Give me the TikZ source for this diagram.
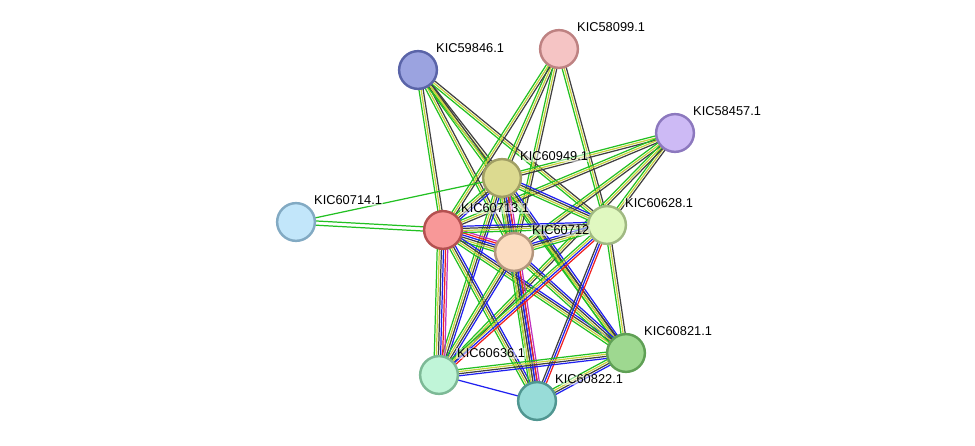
\documentclass[tikz,border=0pt]{standalone}
\usepackage{fontspec}
\setmainfont{Liberation Sans}
\usetikzlibrary{calc}
\definecolor{gr}{HTML}{22C022}
\definecolor{ye}{HTML}{C8D23C}
\definecolor{bk}{HTML}{404040}
\definecolor{bl}{HTML}{2020F0}
\definecolor{rd}{HTML}{F02020}
\definecolor{mg}{HTML}{C030C0}
\newcommand\ed[3]{\foreach \c/\o in #3{\draw[\c,line width=0.7pt] ($(#1)!\o*1.2pt!90:(#2)$) -- ($(#2)!\o*1.2pt!-90:(#1)$);}}
\tikzset{prot/.style={circle,minimum size=21.5pt,inner sep=0pt,line width=1.4pt},
lab/.style={font=\fontsize{7.3pt}{7.3pt}\selectfont,anchor=south west,inner sep=0.5pt,fill=white,fill opacity=0.5,text opacity=1}}
\begin{document}
\begin{tikzpicture}[x=0.02cm,y=-0.02cm]
\useasboundingbox (0,0) rectangle (975,446);
\coordinate (a) at (418,70);
\coordinate (b) at (559,49);
\coordinate (c) at (675,133);
\coordinate (d) at (502,178);
\coordinate (e) at (296,222);
\coordinate (f) at (443,230);
\coordinate (g) at (514,252);
\coordinate (h) at (607,225);
\coordinate (i) at (626,353);
\coordinate (j) at (439,375);
\coordinate (k) at (537,401);
\def\A{gr/-1,ye/0,bk/1}
\def\B{gr/-1.5,ye/-0.5,bk/0.5,bl/1.5}
\def\C{gr/-2.5,ye/-1.5,bk/-0.5,bl/0.5,rd/1.5,mg/2.5}
\foreach \x in {d,f,g,h,i}{\ed{a}{\x}{\A}}
\foreach \x in {d,f,g,h}{\ed{b}{\x}{\A}}
\foreach \x in {d,f,g,h,j}{\ed{c}{\x}{\A}}
\foreach \x in {f,h,i,j,k}{\ed{d}{\x}{\B}}
\ed{d}{g}{\C}
\ed{f}{g}{\C}
\foreach \x in {h,i,k}{\ed{f}{\x}{\B}}
\ed{f}{j}{\C}
\foreach \x in {h,i,j}{\ed{g}{\x}{\B}}
\ed{g}{k}{\C}
\ed{h}{i}{\A}
\ed{h}{j}{{gr/-1.5,ye/-0.5,bl/0.5,rd/1.5}}
\ed{h}{k}{{bk/-1,bl/0,rd/1}}
\ed{i}{j}{\B}
\ed{i}{k}{\B}
\ed{j}{k}{{bl/0}}
\ed{e}{d}{{gr/0}}
\ed{e}{f}{{gr/-1,gr/1}}
\node[prot,fill={rgb,255:red,155;green,163;blue,224},draw={rgb,255:red,90;green,100;blue,168}] (na) at (a) {};
\node[prot,fill={rgb,255:red,245;green,196;blue,196},draw={rgb,255:red,190;green,130;blue,130}] (nb) at (b) {};
\node[prot,fill={rgb,255:red,205;green,186;blue,245},draw={rgb,255:red,140;green,120;blue,190}] (nc) at (c) {};
\node[prot,fill={rgb,255:red,220;green,218;blue,144},draw={rgb,255:red,160;green,158;blue,100}] (nd) at (d) {};
\node[prot,fill={rgb,255:red,194;green,230;blue,250},draw={rgb,255:red,130;green,170;blue,195}] (ne) at (e) {};
\node[prot,fill={rgb,255:red,248;green,152;blue,152},draw={rgb,255:red,180;green,80;blue,80}] (nf) at (f) {};
\node[prot,fill={rgb,255:red,251;green,220;blue,192},draw={rgb,255:red,180;green,150;blue,125}] (ng) at (g) {};
\node[prot,fill={rgb,255:red,224;green,248;blue,192},draw={rgb,255:red,160;green,185;blue,130}] (nh) at (h) {};
\node[prot,fill={rgb,255:red,158;green,216;blue,144},draw={rgb,255:red,95;green,160;blue,85}] (ni) at (i) {};
\node[prot,fill={rgb,255:red,192;green,245;blue,216},draw={rgb,255:red,125;green,185;blue,150}] (nj) at (j) {};
\node[prot,fill={rgb,255:red,152;green,220;blue,216},draw={rgb,255:red,80;green,150;blue,145}] (nk) at (k) {};
\node[lab] at (435,54) {KIC59846.1};
\node[lab] at (576,33) {KIC58099.1};
\node[lab] at (692,117) {KIC58457.1};
\node[lab] at (519,162) {KIC60949.1};
\node[lab] at (313,206) {KIC60714.1};
\node[lab] at (460,214) {KIC60713.1};
\node[lab] at (531,236) {KIC60712};
\node[lab] at (624,209) {KIC60628.1};
\node[lab] at (643,337) {KIC60821.1};
\node[lab] at (456,359) {KIC60636.1};
\node[lab] at (554,385) {KIC60822.1};
\end{tikzpicture}
\end{document}
